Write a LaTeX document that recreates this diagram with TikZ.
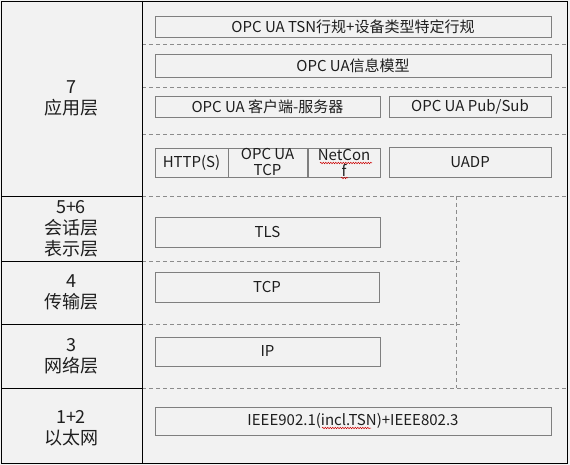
\documentclass[tikz,border=0pt]{standalone}
\usepackage{fontspec}
\setmainfont{Noto Sans CJK SC}
\usetikzlibrary{decorations.pathmorphing}
\definecolor{bggray}{HTML}{F2F2F2}
\definecolor{boxgray}{HTML}{7F7F7F}
\definecolor{dashgray}{HTML}{8C8C8C}
\definecolor{txtgray}{HTML}{1E1E1E}

\begin{document}
\begin{tikzpicture}[x=1pt,y=-1pt,
    box/.style={draw=boxgray, line width=0.9pt, inner sep=0pt, align=center, text=txtgray, font=\fontsize{15}{16}\selectfont},
    layer/.style={align=center, text=txtgray, font=\fontsize{18}{21}\selectfont},
    sep/.style={draw=dashgray, line width=0.8pt, dash pattern=on 4pt off 3pt},
    squiggle/.style={draw=red!80!black, line width=0.5pt, decorate, decoration={snake, amplitude=0.7pt, segment length=2.5pt}}]
        \fill[bggray] (0,0) rectangle (570,465);
        \useasboundingbox (0,0) rectangle (570,465);

        % dashed separators
        \draw[sep] (142,44) to (567,44);
        \draw[sep] (142,87) to (567,87);
        \draw[sep] (142,134) to (567,134);
        \draw[sep] (142,196) to (567,196);
        \draw[sep] (142,261) to (460,261);
        \draw[sep] (142,324) to (460,324);
        \draw[sep] (142,388) to (567,388);
        \draw[sep] (456,196) to (456,388);

        % frame and layer column
        \draw[line width=0.9pt] (1,1) rectangle (567,463);
        \draw[line width=0.9pt] (142,1) to (142,463);
        \draw[line width=0.9pt] (1,196) to (142,196);
        \draw[line width=0.9pt] (1,261) to (142,261);
        \draw[line width=0.9pt] (1,324) to (142,324);
        \draw[line width=0.9pt] (1,388) to (142,388);

        \node[layer] (app) at (71,98) {7\\应用层};
        \node[layer] (sespres) at (71,229) {5+6\\会话层\\表示层};
        \node[layer] (transport) at (71,292) {4\\传输层};
        \node[layer] (network) at (71,356) {3\\网络层};
        \node[layer] (ethernet) at (71,428) {1+2\\以太网};

        \node[box, minimum width=396pt, minimum height=21pt] (tsn) at (353,26.5) {OPC UA TSN行规+设备类型特定行规};
        \node[box, minimum width=396pt, minimum height=23pt] (infomodel) at (353,65.5) {OPC UA信息模型};
        \node[box, minimum width=225pt, minimum height=21pt] (clientserver) at (267.5,106.5) {OPC UA 客户端-服务器};
        \node[box, minimum width=162pt, minimum height=21pt] (pubsub) at (470,107) {OPC UA Pub/Sub};

        \node[box, minimum width=73pt, minimum height=29pt] (https) at (191.5,162.5) {HTTP(S)};
        \node[box, minimum width=79pt, minimum height=29pt] (uatcp) at (267.5,162.5) {OPC UA\\TCP};
        \node[box, minimum width=72pt, minimum height=29pt] (netconf) at (344,162.5) {NetCon\\f};
        \node[box, minimum width=162pt, minimum height=30pt] (uadp) at (470,162) {UADP};

        \node[box, minimum width=225pt, minimum height=30pt] (tls) at (267.5,232) {TLS};
        \node[box, minimum width=224pt, minimum height=30pt] (tcp) at (267,287) {TCP};
        \node[box, minimum width=225pt, minimum height=29pt] (ip) at (267.5,351.5) {IP};
        \node[box, minimum width=396pt, minimum height=28pt] (ieee) at (353,421) {IEEE902.1(incl.TSN)+IEEE802.3};

        % spell-check marks
        \draw[squiggle] (320,163) to (372,163);
        \draw[squiggle] (341,178) to (348,178);
        \draw[squiggle] (322,428) to (371,428);
    \end{tikzpicture}
\end{document}
